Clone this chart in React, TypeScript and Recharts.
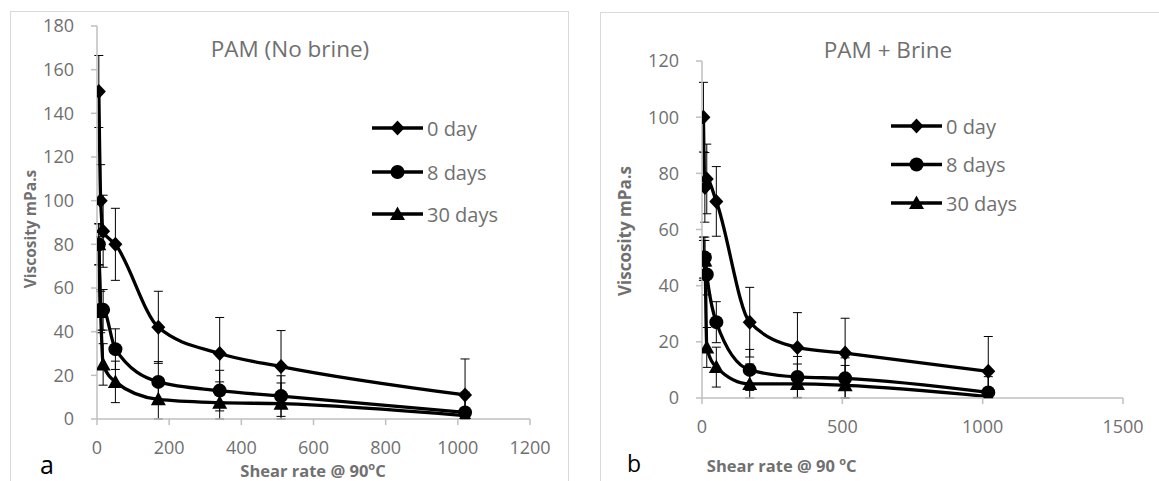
import React from "react";
import { ErrorBar, Line, LineChart, XAxis, YAxis } from "recharts";

// shear rate steps (1/s), same for both panels
const SHEAR_RATE = [5.1, 10.2, 17, 51, 170, 340, 510, 1020];

// panel a : PAM (no brine)
const A_DAY0 = [150, 100, 86, 80, 42, 30, 24, 11];
const A_DAY8 = [80, 50, 50, 32, 17, 13, 10.5, 3];
const A_DAY30 = [80, 49, 25, 17, 9, 7.5, 7, 1.5];
const A_ERR = [16.5, 9.3, 9.5]; // one error value per series

// panel b : PAM + brine
const B_DAY0 = [100, 75, 78, 70, 27, 18, 16, 9.5];
const B_DAY8 = [50, 50, 44, 27, 10, 7.5, 7, 2];
const B_DAY30 = [49, 49, 18, 11, 5, 5, 4.5, 0.5];
const B_ERR = [12.4, 7.3, 7.1];

const SERIES_NAMES = ["0 day", "8 days", "30 days"];
const A_X_TICKS = [0, 200, 400, 600, 800, 1000, 1200];
const A_Y_TICKS = [0, 20, 40, 60, 80, 100, 120, 140, 160, 180];
const B_X_TICKS = [0, 500, 1000, 1500];
const B_Y_TICKS = [0, 20, 40, 60, 80, 100, 120];

const TEXT = "#707070";
const AXIS = "#bfbfbf";
const FONT = "'Open Sans', sans-serif";

type Kind = "diamond" | "circle" | "triangle";
const KINDS: Kind[] = ["diamond", "circle", "triangle"];

// error bars stop at the x axis, like Excel does
const err = (v: number, e: number) => [Math.min(e, v), e];

function buildRows(d0: number[], d8: number[], d30: number[], e: number[]) {
  return SHEAR_RATE.map((x, i) => ({
    x,
    d0: d0[i],
    d8: d8[i],
    d30: d30[i],
    e0: err(d0[i], e[0]),
    e8: err(d8[i], e[1]),
    e30: err(d30[i], e[2]),
  }));
}

function Marker({ kind, cx, cy }: { kind: Kind; cx: number; cy: number }) {
  if (kind === "circle") return <circle cx={cx} cy={cy} r={7} fill="#000" />;
  const d =
    kind === "diamond"
      ? `M${cx},${cy - 7.5}L${cx + 7},${cy}L${cx},${cy + 7.5}L${cx - 7},${cy}Z`
      : `M${cx},${cy - 7.5}L${cx + 7.5},${cy + 6}L${cx - 7.5},${cy + 6}Z`;
  return <path d={d} fill="#000" />;
}

const dotFor = (kind: Kind) => (p: any) => {
  if (p.cx == null || p.cy == null) return <g key={`${kind}-${p.index}`} />;
  return <Marker key={`${kind}-${p.index}`} kind={kind} cx={p.cx} cy={p.cy} />;
};

type PanelProps = {
  left: number;
  width: number;
  margin: { top: number; right: number; bottom: number; left: number };
  rows: ReturnType<typeof buildRows>;
  xTicks: number[];
  yTicks: number[];
  xTitle: { x: number; y: number; space: boolean };
  yTitle: { x: number; y: number; size: number };
};

function Panel({ left, width, margin, rows, xTicks, yTicks, xTitle, yTitle }: PanelProps) {
  const tick = { fill: TEXT, fontSize: 18 };
  return (
    <div style={{ position: "absolute", left, top: 0 }}>
      <LineChart width={width} height={481} data={rows} margin={margin}>
        <XAxis
          type="number"
          dataKey="x"
          domain={[xTicks[0], xTicks[xTicks.length - 1]]}
          ticks={xTicks}
          allowDataOverflow
          height={30}
          tick={tick}
          tickSize={6}
          tickMargin={16}
          axisLine={{ stroke: AXIS, strokeWidth: 1.5 }}
          tickLine={{ stroke: AXIS, strokeWidth: 1.5 }}
          label={() => (
            <text x={xTitle.x} y={xTitle.y} textAnchor="middle" fill={TEXT} fontSize={16.5} fontWeight={700}>
              {xTitle.space ? "Shear rate @ 90 " : "Shear rate @ 90"}
              <tspan dy={-7} fontSize={11}>o</tspan>
              <tspan dy={7}>C</tspan>
            </text>
          )}
        />
        <YAxis
          type="number"
          domain={[yTicks[0], yTicks[yTicks.length - 1]]}
          ticks={yTicks}
          allowDataOverflow
          width={60}
          tick={tick}
          tickSize={6}
          tickMargin={17}
          axisLine={{ stroke: AXIS, strokeWidth: 1.5 }}
          tickLine={{ stroke: AXIS, strokeWidth: 1.5 }}
          label={() => (
            <text
              x={yTitle.x}
              y={yTitle.y}
              transform={`rotate(-90, ${yTitle.x}, ${yTitle.y})`}
              textAnchor="middle"
              dominantBaseline="central"
              fill={TEXT}
              fontSize={yTitle.size}
              fontWeight={700}
            >
              Viscosity mPa.s
            </text>
          )}
        />
        {(["d0", "d8", "d30"] as const).map((key, i) => (
          <Line
            key={key}
            dataKey={key}
            name={SERIES_NAMES[i]}
            type="monotone"
            stroke="#000"
            strokeWidth={3.3}
            dot={dotFor(KINDS[i])}
            activeDot={false}
            isAnimationActive={false}
          >
            <ErrorBar
              dataKey={`e${key.slice(1)}`}
              direction="y"
              width={4.5}
              stroke="#000"
              strokeWidth={1}
              isAnimationActive={false}
            />
          </Line>
        ))}
      </LineChart>
    </div>
  );
}

// legend drawn by hand, Excel style: line with marker in the middle
function LegendBlock({ x, rowsY }: { x: number; rowsY: number[] }) {
  return (
    <g>
      {SERIES_NAMES.map((name, i) => (
        <g key={name}>
          <line x1={x} x2={x + 51} y1={rowsY[i]} y2={rowsY[i]} stroke="#000" strokeWidth={3.3} />
          <Marker kind={KINDS[i]} cx={x + 25.5} cy={rowsY[i]} />
          <text x={x + 55} y={rowsY[i]} dominantBaseline="central" fill={TEXT} fontSize={20}>
            {name}
          </text>
        </g>
      ))}
    </g>
  );
}

export default function App() {
  const rowsA = buildRows(A_DAY0, A_DAY8, A_DAY30, A_ERR);
  const rowsB = buildRows(B_DAY0, B_DAY8, B_DAY30, B_ERR);

  return (
    <div
      style={{
        position: "fixed",
        left: 0,
        top: 0,
        width: 1159,
        height: 481,
        overflow: "hidden",
        background: "#fff",
        fontFamily: FONT,
      }}
    >
      {/* chart frames */}
      <div style={{ position: "absolute", left: 10, top: 11, width: 557, height: 520, border: "1px solid #d9d9d9" }} />
      <div style={{ position: "absolute", left: 600, top: 12, width: 620, height: 520, border: "1px solid #d9d9d9" }} />

      <Panel
        left={0}
        width={568}
        margin={{ top: 26, right: 38, bottom: 32, left: 37 }}
        rows={rowsA}
        xTicks={A_X_TICKS}
        yTicks={A_Y_TICKS}
        xTitle={{ x: 313, y: 476.5, space: false }}
        yTitle={{ x: 30, y: 229, size: 15.5 }}
      />
      <Panel
        left={580}
        width={579}
        margin={{ top: 61, right: 36, bottom: 53, left: 62 }}
        rows={rowsB}
        xTicks={B_X_TICKS}
        yTicks={B_Y_TICKS}
        xTitle={{ x: 201.7, y: 471.5, space: true }}
        yTitle={{ x: 44.6, y: 231, size: 17 }}
      />

      {/* titles, legends and panel letters */}
      <svg width={1159} height={481} style={{ position: "absolute", left: 0, top: 0, pointerEvents: "none" }}>
        <text x={290} y={48} textAnchor="middle" dominantBaseline="central" fill={TEXT} fontSize={22.5}>
          PAM (No brine)
        </text>
        <text x={888} y={49} textAnchor="middle" dominantBaseline="central" fill={TEXT} fontSize={22.5}>
          PAM + Brine
        </text>
        <LegendBlock x={372} rowsY={[128, 172, 214]} />
        <LegendBlock x={891} rowsY={[126, 164.5, 203]} />
        <text x={40} y={474} fill="#000" fontSize={25}>
          a
        </text>
        <text x={627} y={471.5} fill="#000" fontSize={23}>
          b
        </text>
      </svg>
    </div>
  );
}
